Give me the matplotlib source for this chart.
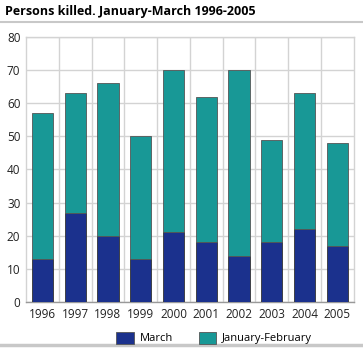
import matplotlib
matplotlib.use('Agg')
import matplotlib.pyplot as plt
from matplotlib.patches import Patch
from matplotlib.lines import Line2D

# data
years = ['1996', '1997', '1998', '1999', '2000', '2001', '2002', '2003', '2004', '2005']
march = [13, 27, 20, 13, 21, 18, 14, 18, 22, 17]
totals = [57, 63, 66, 50, 70, 62, 70, 49, 63, 48]
jan_feb = [t - m for t, m in zip(totals, march)]

march_color = '#1b318d'
janfeb_color = '#189896'
grid_color = '#d3d3d3'

plt.rcParams['font.family'] = ['Open Sans', 'DejaVu Sans']

fig = plt.figure(figsize=(3.63, 3.52), dpi=100)
ax = fig.add_axes([0.0716, 0.142, 0.903, 0.753])

x = list(range(len(years)))
ax.bar(x, march, width=0.65, color=march_color, edgecolor='#333333', linewidth=0.6, zorder=3)
ax.bar(x, jan_feb, width=0.65, bottom=march, color=janfeb_color, edgecolor='#555555', linewidth=0.6, zorder=3)

ax.set_xlim(-0.5, len(years) - 0.5)
ax.set_ylim(0, 80)
ax.set_yticks(range(0, 81, 10))
ax.set_xticks(x)
ax.set_xticklabels(years)

# horizontal grid plus vertical lines between categories
ax.yaxis.grid(True, color=grid_color, linewidth=1, zorder=0)
for b in range(1, len(years)):
    ax.axvline(b - 0.5, color=grid_color, linewidth=1, zorder=0)

for side in ['left', 'right', 'top']:
    ax.spines[side].set_color(grid_color)
    ax.spines[side].set_linewidth(1)
ax.spines['bottom'].set_color('#999999')
ax.spines['bottom'].set_linewidth(1)

ax.tick_params(axis='both', length=0, labelsize=8.5, colors='#222222', pad=4)

# title and separator lines
fig.text(0.014, 0.966, 'Persons killed. January-March 1996-2005', fontsize=9,
         fontweight='bold', va='center', ha='left')
fig.add_artist(Line2D([0, 1], [0.937, 0.937], color='#c8c8c8', linewidth=1.5))
fig.add_artist(Line2D([0, 1], [0.02, 0.02], color='#c8c8c8', linewidth=2.5))

handles = [Patch(facecolor=march_color, edgecolor='#555555', linewidth=0.6, label='March'),
           Patch(facecolor=janfeb_color, edgecolor='#555555', linewidth=0.6, label='January-February')]
fig.legend(handles=handles, loc='center', bbox_to_anchor=(0.59, 0.04), ncol=2,
           frameon=False, fontsize=8, handlelength=1.6, handleheight=1.3,
           columnspacing=2.3, handletextpad=0.5)

fig.savefig('out.png', dpi=100)
